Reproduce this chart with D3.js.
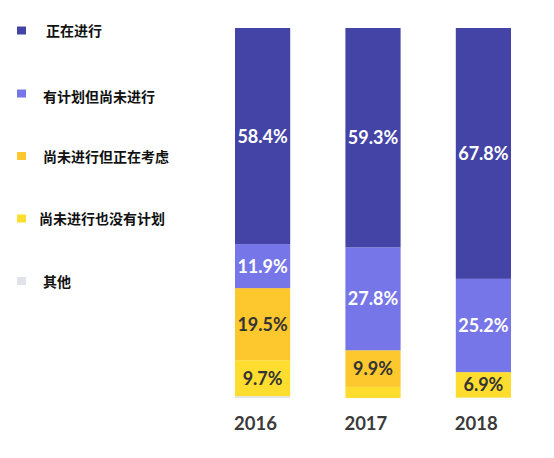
<!DOCTYPE html>
<html><head><meta charset="utf-8">
<script src="https://cdn.jsdelivr.net/npm/d3@7/dist/d3.min.js"></script>
<style>body{margin:0;background:#fff}svg{display:block}</style>
</head><body>
<svg id="c" width="554" height="458"></svg>
<script>
const years = ["2016","2017","2018"];
const seriesNames = ["正在进行","有计划但尚未进行","尚未进行但正在考虑","尚未进行也没有计划","其他"];
const ongoing   = [58.4, 59.3, 67.8];
const planned   = [11.9, 27.8, 25.2];
const considering = [19.5, 9.9, 0];
const noPlan    = [9.7, 3.0, 6.9];
const other     = [0.5, 0, 0.1];
const shownLabels = [
  ["58.4%","59.3%","67.8%"],
  ["11.9%","27.8%","25.2%"],
  ["19.5%","9.9%",""],
  ["9.7%","","6.9%"],
  ["","",""]
];
const colors = ["#4444A6","#7676E8","#FDC72E","#FEDD2F","#E2E3EA"];
const labelColors = ["#fff","#fff","#333","#333","#333"];
const legendX = [46, 43, 43, 39, 43];

const seriesVals = [ongoing, planned, considering, noPlan, other];
const table = years.map((y,i)=>{const o={year:y}; seriesNames.forEach((s,k)=>o[s]=seriesVals[k][i]); return o;});
const order = seriesNames.slice().reverse();
const stack = d3.stack().keys(order)(table);

const svg = d3.select("#c");
const x = d3.scaleBand().domain(years).range([235,511]).paddingInner(0.5).paddingOuter(0);
const y = d3.scaleLinear().domain([0,100]).range([398,28]);

const g = svg.append("g");
stack.forEach(layer=>{
  const k = seriesNames.indexOf(layer.key);
  g.selectAll(null).data(layer).join("rect")
    .attr("x", d=>x(d.data.year))
    .attr("width", x.bandwidth())
    .attr("y", d=>y(d[1]))
    .attr("height", d=>Math.max(0, y(d[0])-y(d[1])))
    .attr("fill", colors[k]);
});
stack.forEach(layer=>{
  const k = seriesNames.indexOf(layer.key);
  g.selectAll(null).data(layer).join("text")
    .attr("x", d=>x(d.data.year)+x.bandwidth()/2)
    .attr("y", d=>(y(d[0])+y(d[1]))/2)
    .attr("dy","0.36em")
    .attr("text-anchor","middle")
    .attr("font-family","Lato, 'Open Sans', sans-serif")
    .attr("font-weight","bold")
    .attr("font-size","18px")
    .attr("fill", labelColors[k])
    .text((d,i)=>shownLabels[k][i]);
});

const xAxis = d3.axisBottom(x).tickSize(0).tickPadding(0);
const ax = svg.append("g").call(xAxis);
ax.select(".domain").remove();
ax.selectAll("text")
  .attr("x", d=>-x.bandwidth()/2 - 1)
  .attr("y", 430)
  .attr("dy", 0)
  .attr("text-anchor","start")
  .attr("font-family","Lato, 'Open Sans', sans-serif")
  .attr("font-weight","bold")
  .attr("font-size","18.5px")
  .attr("fill","#3a3a3a");

const legendY = [30.5, 93.5, 156, 218.5, 281];
const lg = svg.append("g");
seriesNames.forEach((s,k)=>{
  lg.append("rect").attr("x",17).attr("y",legendY[k]-4).attr("width",9).attr("height",8).attr("fill",colors[k]);
  lg.append("text").attr("x",legendX[k]).attr("y",legendY[k]+ (k===1?3.5:0.5)).attr("dy","0.36em")
    .attr("font-family","'Noto Sans CJK SC', sans-serif")
    .attr("font-weight","bold").attr("font-size","14px").attr("fill","#111")
    .text(s);
});
</script>
</body></html>
